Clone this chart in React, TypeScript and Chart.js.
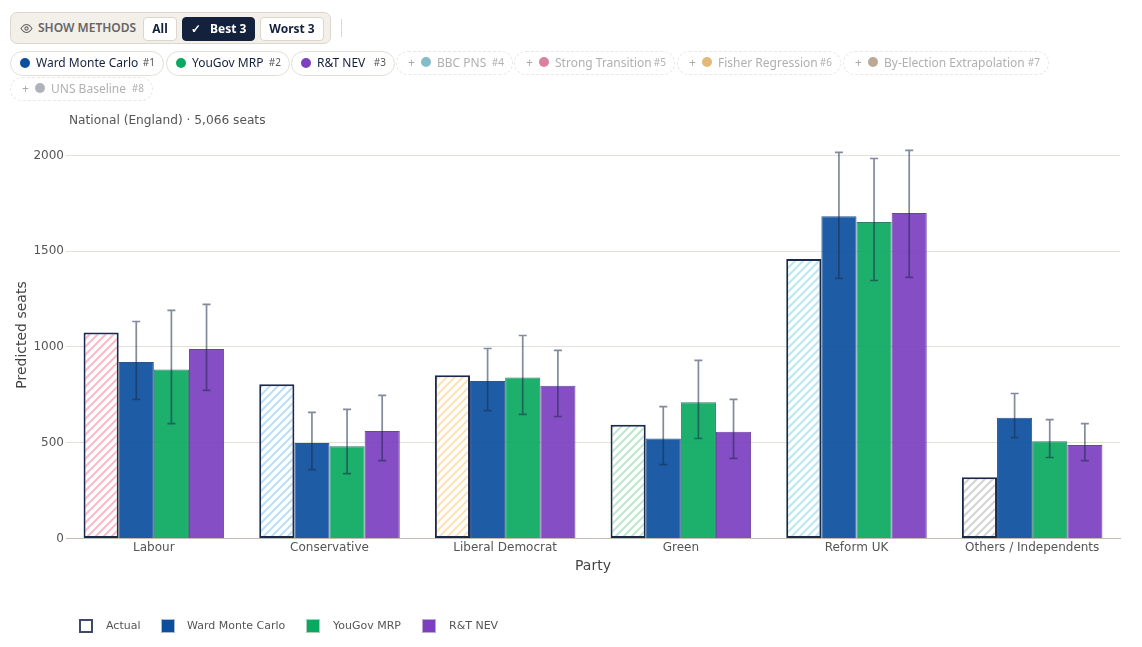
import React, { useEffect, useRef } from "react";
import { Chart, registerables } from "chart.js";
Chart.register(...registerables);

const categories = ["Labour", "Conservative", "Liberal Democrat", "Green", "Reform UK", "Others / Independents"];
const actual = [1075, 806, 853, 594, 1459, 320];
const ward = [921, 498, 822, 522, 1683, 631];
const yougov = [882, 482, 840, 712, 1652, 508];
const rt = [989, 561, 798, 558, 1699, 488];
const wardLow = [726, 360, 668, 386, 1358, 527];
const wardHigh = [1133, 658, 992, 689, 2016, 757];
const yougovLow = [600, 339, 648, 522, 1347, 423];
const yougovHigh = [1191, 674, 1060, 930, 1984, 621];
const rtLow = [773, 407, 637, 418, 1363, 407];
const rtHigh = [1222, 747, 982, 726, 2026, 600];
const tickValues = [0, 500, 1000, 1500, 2000];
const actualHatch = ["#f9b9c8", "#b9dff7", "#fde2b6", "#bce8ce", "#b9e8f2", "#d3d3d3"];

const FONT = "'DejaVu Sans', sans-serif";
const UI = "'Noto Sans', sans-serif";

const activePills = [
  { name: "Ward Monte Carlo", rank: "#1", color: "#0b4f9e", x: 10, w: 154, y: 51 },
  { name: "YouGov MRP", rank: "#2", color: "#0aa860", x: 166, w: 124, y: 51 },
  { name: "R&T NEV", rank: "#3", color: "#7b3fbf", x: 291, w: 104, y: 51 },
];
const idlePills = [
  { name: "BBC PNS", rank: "#4", color: "#86bcc8", x: 396, w: 117, y: 51 },
  { name: "Strong Transition", rank: "#5", color: "#d9829f", x: 514, w: 161, y: 51 },
  { name: "Fisher Regression", rank: "#6", color: "#e4b877", x: 677, w: 164, y: 51 },
  { name: "By-Election Extrapolation", rank: "#7", color: "#bda896", x: 843, w: 206, y: 51 },
  { name: "UNS Baseline", rank: "#8", color: "#aeb2bb", x: 10, w: 143, y: 77 },
];
const legendItems = [
  { name: "Actual", color: "#fff", border: "#3f4a68", x: 79, tx: 106, b: 2 },
  { name: "Ward Monte Carlo", color: "#0b4f9e", border: "#a9b9d0", x: 161, tx: 187, b: 1 },
  { name: "YouGov MRP", color: "#0aa860", border: "#a9d0bb", x: 306, tx: 333, b: 1 },
  { name: "R&T NEV", color: "#7b3fbf", border: "#bda9d0", x: 422, tx: 449, b: 1 },
];

function hatch(color: string): CanvasPattern {
  const s = 8;
  const c = document.createElement("canvas");
  c.width = s;
  c.height = s;
  const g = c.getContext("2d")!;
  g.fillStyle = "#fff";
  g.fillRect(0, 0, s, s);
  g.strokeStyle = color;
  g.lineWidth = 2;
  g.beginPath();
  g.moveTo(-1, 1); g.lineTo(1, -1);
  g.moveTo(-1, s + 1); g.lineTo(s + 1, -1);
  g.moveTo(s - 1, s + 1); g.lineTo(s + 1, s - 1);
  g.stroke();
  return g.createPattern(c, "repeat")!;
}

const errorBars = {
  id: "errorBars",
  afterDatasetsDraw(chart: any) {
    const { ctx, scales } = chart;
    chart.data.datasets.forEach((ds: any, i: number) => {
      if (!ds.low) return;
      const meta = chart.getDatasetMeta(i);
      meta.data.forEach((bar: any, j: number) => {
        const y1 = scales.y.getPixelForValue(ds.low[j]);
        const y2 = scales.y.getPixelForValue(ds.high[j]);
        ctx.save();
        ctx.strokeStyle = "rgba(27,42,74,0.55)";
        ctx.lineWidth = 1.7;
        ctx.beginPath();
        ctx.moveTo(bar.x, y1); ctx.lineTo(bar.x, y2);
        ctx.moveTo(bar.x - 4, y1); ctx.lineTo(bar.x + 4, y1);
        ctx.moveTo(bar.x - 4, y2); ctx.lineTo(bar.x + 4, y2);
        ctx.stroke();
        ctx.restore();
      });
    });
  },
};

const abs = (x: number, y: number, w: number, h: number): React.CSSProperties => ({
  position: "absolute", left: x, top: y, width: w, height: h, boxSizing: "border-box",
});

export default function App() {
  const ref = useRef<HTMLCanvasElement>(null);
  useEffect(() => {
    const chart = new Chart(ref.current!, {
      type: "bar",
      plugins: [errorBars],
      data: {
        labels: categories,
        datasets: [
          { label: "Actual", data: actual, backgroundColor: actualHatch.map(hatch), borderColor: "#1b2a4a", borderWidth: 2, borderSkipped: false },
          { label: "Ward Monte Carlo", data: ward, low: wardLow, high: wardHigh, backgroundColor: "rgba(11,79,158,0.92)", borderColor: "#2a5590", borderWidth: 1 },
          { label: "YouGov MRP", data: yougov, low: yougovLow, high: yougovHigh, backgroundColor: "rgba(10,168,96,0.92)", borderColor: "#2a7f6a", borderWidth: 1 },
          { label: "R&T NEV", data: rt, low: rtLow, high: rtHigh, backgroundColor: "rgba(123,63,191,0.92)", borderColor: "#6a459f", borderWidth: 1 },
        ] as any,
      },
      options: {
        animation: false,
        responsive: false,
        datasets: { bar: { categoryPercentage: 0.8, barPercentage: 1 } },
        layout: { padding: { top: 131.5, right: 22, left: 0, bottom: 0 } },
        plugins: { legend: { display: false }, tooltip: { enabled: false } },
        scales: {
          x: {
            grid: { display: false, drawTicks: false },
            border: { color: "#c4bcb2", width: 1 },
            ticks: { color: "#555", font: { family: FONT, size: 12 }, padding: 2, maxRotation: 0 },
            title: { display: true, text: "Party", color: "#444", font: { family: FONT, size: 14 }, padding: { top: 0, bottom: 72.5 } },
            afterFit(s: any) { s.height = 108.5; },
          } as any,
          y: {
            min: 0,
            max: 2125,
            grid: { color: "#e3e0da", drawTicks: false },
            border: { display: false },
            ticks: { color: "#555", font: { family: FONT, size: 12 }, padding: 2, callback: (v: any) => String(v) },
            afterBuildTicks(s: any) { s.ticks = tickValues.map((value) => ({ value })); },
            title: { display: true, text: "Predicted seats", color: "#444", font: { family: FONT, size: 14 }, padding: { top: 14, bottom: 0 } },
            afterFit(s: any) { s.width = 66; },
          } as any,
        },
      },
    });
    return () => chart.destroy();
  }, []);

  return (
    <div style={{ ...abs(0, 0, 1142, 647), overflow: "hidden", background: "#fff", fontFamily: UI }}>
      <canvas ref={ref} width={1142} height={647} style={{ position: "absolute", left: 0, top: 0, width: 1142, height: 647 }} />

      <div style={{ ...abs(10, 12, 321, 32), background: "#f3efe9", border: "1px solid #dcd6cc", borderRadius: 7 }} />
      <svg style={{ position: "absolute", left: 20, top: 22 }} width="13" height="13" viewBox="0 0 13 13" fill="none" stroke="#666" strokeWidth="1.1">
        <path d="M1 6.5C3 3.5 4.7 2.5 6.5 2.5S10 3.5 12 6.5C10 9.5 8.3 10.5 6.5 10.5S3 9.5 1 6.5Z" />
        <circle cx="6.5" cy="6.5" r="1.6" />
      </svg>
      <div style={{ position: "absolute", left: 38, top: 19, fontSize: 12, lineHeight: "18px", fontWeight: 600, color: "#666", whiteSpace: "nowrap" }}>SHOW METHODS</div>
      {[
        { t: "All", x: 143, w: 34, on: false },
        { t: "✓   Best 3", x: 182, w: 73, on: true },
        { t: "Worst 3", x: 260, w: 64, on: false },
      ].map((b) => (
        <div key={b.t} style={{ ...abs(b.x, 17, b.w, 24), background: b.on ? "#14213d" : "#fff", border: b.on ? "1px solid #14213d" : "1px solid #dcd6cc", borderRadius: 4, color: b.on ? "#fff" : "#14213d", fontSize: 12, fontWeight: 700, lineHeight: "22px", textAlign: "center", whiteSpace: "pre" }}>{b.t}</div>
      ))}
      <div style={{ ...abs(341, 19, 1, 18), background: "#dcd6cc" }} />

      {activePills.map((p) => (
        <div key={p.name} style={{ ...abs(p.x, p.y, p.w, 25), background: "#fff", border: "1.5px solid #e3dfd7", borderRadius: 13, whiteSpace: "nowrap" }}>
          <span style={{ position: "absolute", left: 9, top: 6, width: 10, height: 10, borderRadius: "50%", background: p.color }} />
          <span style={{ position: "absolute", left: 25, top: 2, fontSize: 12, lineHeight: "18px", color: "#14213d" }}>{p.name}</span>
          <span style={{ position: "absolute", right: 8, top: 2, fontSize: 10, lineHeight: "16px", color: "#555" }}>{p.rank}</span>
        </div>
      ))}
      {idlePills.map((p) => (
        <div key={p.name} style={{ ...abs(p.x, p.y, p.w, 24), border: "1.5px dashed #ebe8e2", borderRadius: 13, whiteSpace: "nowrap" }}>
          <span style={{ position: "absolute", left: 11, top: 2, fontSize: 12, lineHeight: "18px", color: "#aaa" }}>+</span>
          <span style={{ position: "absolute", left: 24, top: 5, width: 10, height: 10, borderRadius: "50%", background: p.color }} />
          <span style={{ position: "absolute", left: 40, top: 2, fontSize: 12, lineHeight: "18px", color: "#b0b0b0" }}>{p.name}</span>
          <span style={{ position: "absolute", right: 8, top: 2, fontSize: 10, lineHeight: "16px", color: "#b0b0b0" }}>{p.rank}</span>
        </div>
      ))}

      <div style={{ position: "absolute", left: 69, top: 112, fontFamily: FONT, fontSize: 12.2, lineHeight: "16px", color: "#555", whiteSpace: "nowrap" }}>National (England) · 5,066 seats</div>

      {legendItems.map((l) => (
        <React.Fragment key={l.name}>
          <div style={{ ...abs(l.x, 619, 14, 14), background: l.color, border: `${l.b}px solid ${l.border}` }} />
          <div style={{ position: "absolute", left: l.tx, top: 618, fontFamily: FONT, fontSize: 11, lineHeight: "16px", color: "#555", whiteSpace: "nowrap" }}>{l.name}</div>
        </React.Fragment>
      ))}
    </div>
  );
}
